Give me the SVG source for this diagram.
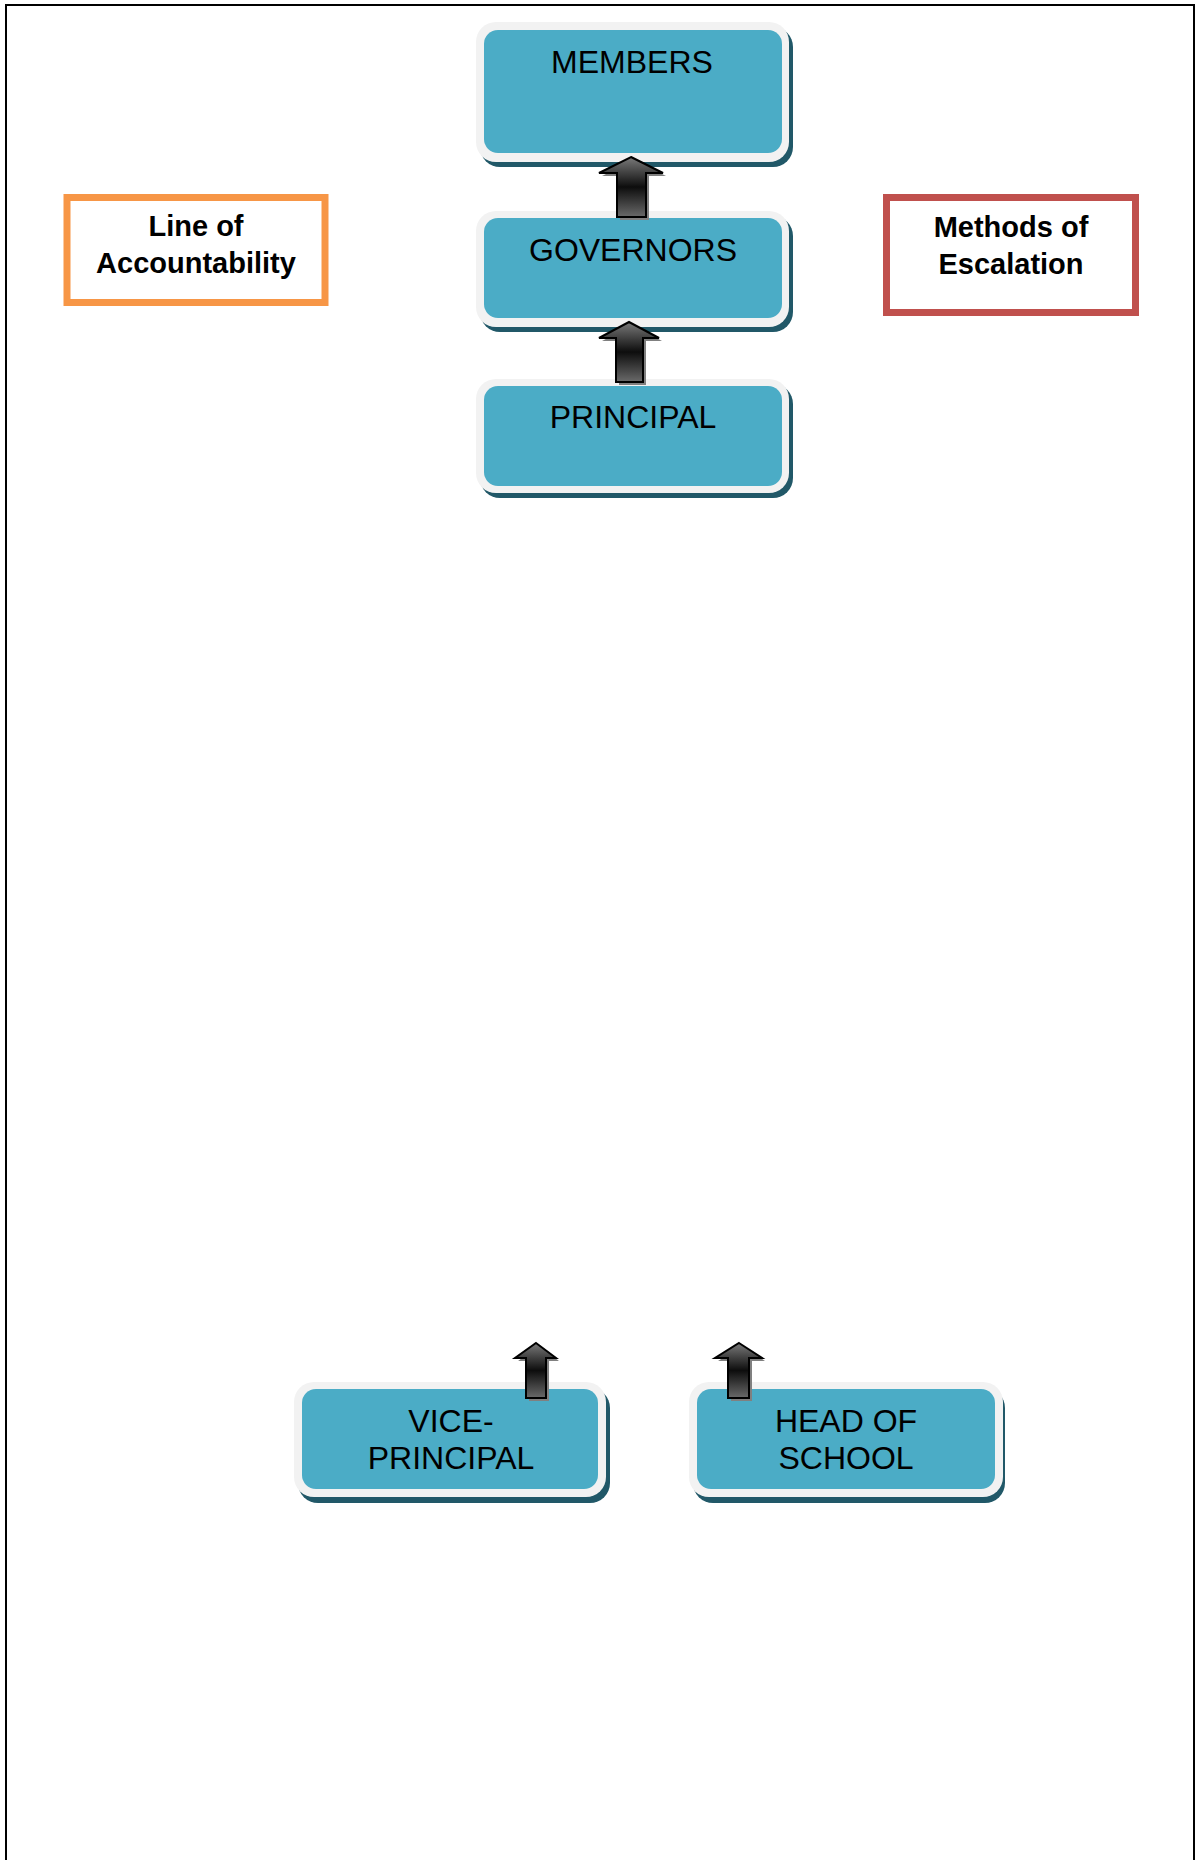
<svg xmlns="http://www.w3.org/2000/svg" width="1195" height="1860" viewBox="0 0 1195 1860">
<defs>
<linearGradient id="ag" x1="0" y1="0" x2="0" y2="1">
<stop offset="0" stop-color="#7a7a7a"/>
<stop offset="0.5" stop-color="#0d0d0d"/>
<stop offset="1" stop-color="#6a6a6a"/>
</linearGradient>
<style>
.sh{fill:#215868}
.ou{fill:#f2f2f2}
.in{fill:#4bacc6}
.nt{font-family:"Liberation Sans",Arial,sans-serif;font-size:32px;fill:#000;text-anchor:middle}
.bt{font-family:"Liberation Sans",Arial,sans-serif;font-size:29px;font-weight:bold;fill:#000;text-anchor:middle}
.ash{fill:#808080}
.arr{fill:url(#ag);stroke:#000;stroke-width:2;stroke-linejoin:miter}
</style>
</defs>
<rect width="1195" height="1860" fill="#fff"/>
<path d="M6,1860 V5 H1194 V1860" fill="none" stroke="#000" stroke-width="2"/>

<g id="line-of-accountability">
<rect x="67" y="197.5" width="258" height="105" fill="#fff" stroke="#f79646" stroke-width="7"/>
<text class="bt" x="196" y="236">Line of</text>
<text class="bt" x="196" y="273">Accountability</text>
</g>

<g id="methods-of-escalation">
<rect x="886.5" y="197.5" width="249" height="115" fill="#fff" stroke="#c0504d" stroke-width="7"/>
<text class="bt" x="1011" y="237">Methods of</text>
<text class="bt" x="1011" y="274">Escalation</text>
</g>

<g id="members">
<rect class="sh" x="480" y="27" width="313" height="140" rx="20"/>
<rect class="ou" x="476" y="22" width="313" height="140" rx="20"/>
<rect class="in" x="484" y="30" width="298" height="123" rx="14"/>
<text class="nt" x="632" y="73">MEMBERS</text>
</g>

<g id="governors">
<rect class="sh" x="480" y="216" width="313" height="116" rx="20"/>
<rect class="ou" x="476" y="211" width="313" height="116" rx="20"/>
<rect class="in" x="484" y="218" width="298" height="100" rx="14"/>
<text class="nt" x="633" y="261">GOVERNORS</text>
</g>

<g id="principal">
<rect class="sh" x="480" y="384" width="313" height="114" rx="20"/>
<rect class="ou" x="476" y="379" width="313" height="114" rx="20"/>
<rect class="in" x="484" y="386" width="298" height="100" rx="14"/>
<text class="nt" x="633" y="428">PRINCIPAL</text>
</g>

<g id="vice-principal">
<rect class="sh" x="298" y="1388" width="312" height="115" rx="20"/>
<rect class="ou" x="294" y="1382" width="312" height="115" rx="20"/>
<rect class="in" x="302" y="1389" width="296" height="100" rx="14"/>
<text class="nt" x="451" y="1432">VICE-</text>
<text class="nt" x="451" y="1469">PRINCIPAL</text>
</g>

<g id="head-of-school">
<rect class="sh" x="693" y="1388" width="312" height="115" rx="20"/>
<rect class="ou" x="689" y="1382" width="314" height="115" rx="20"/>
<rect class="in" x="697" y="1389" width="298" height="100" rx="14"/>
<text class="nt" x="846" y="1432">HEAD OF</text>
<text class="nt" x="846" y="1469">SCHOOL</text>
</g>

<g id="connectors">
<path class="ash" d="M634,160 L666,176 L649,176 L649,220 L620,220 L620,176 L602,176 Z"/>
<path class="arr" d="M631,157 L663,173 L646,173 L646,217 L617,217 L617,173 L599,173 Z"/>

<path class="ash" d="M632,325 L662,341 L646,341 L646,385 L619,385 L619,341 L602,341 Z"/>
<path class="arr" d="M629,322 L659,338 L643,338 L643,382 L616,382 L616,338 L599,338 Z"/>

<path class="ash" d="M539,1346 L559,1361 L549,1361 L549,1401 L529,1401 L529,1361 L518,1361 Z"/>
<path class="arr" d="M536,1343 L556,1358 L546,1358 L546,1398 L526,1398 L526,1358 L515,1358 Z"/>

<path class="ash" d="M742,1346 L765,1361 L752,1361 L752,1401 L731,1401 L731,1361 L718,1361 Z"/>
<path class="arr" d="M739,1343 L762,1358 L749,1358 L749,1398 L728,1398 L728,1358 L715,1358 Z"/>
</g>
</svg>
